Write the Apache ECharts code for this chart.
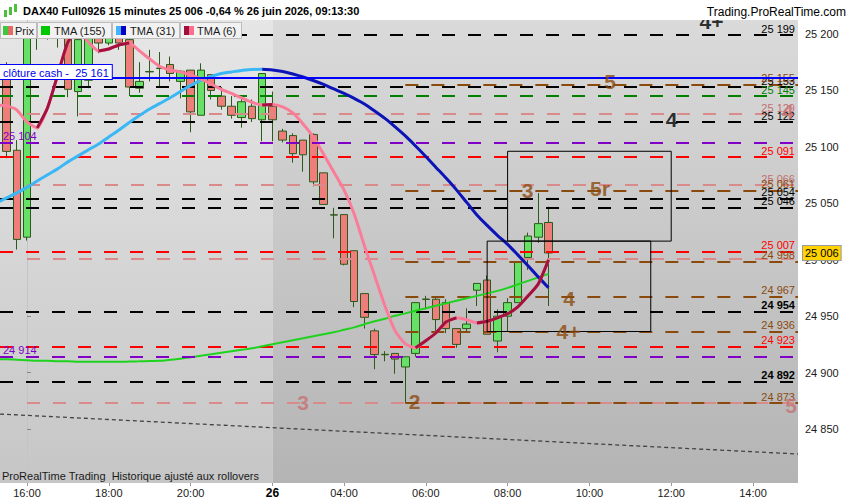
<!DOCTYPE html>
<html><head><meta charset="utf-8">
<script src="https://cdn.jsdelivr.net/npm/echarts@6/dist/echarts.min.js"></script>
<style>html,body{margin:0;padding:0;background:#fff}#c{width:850px;height:500px}</style>
</head><body><div id="c"></div>
<script>
const FONT = '"Liberation Sans", Arial, sans-serif';

// ---------- DATA ----------
// bar index 0 = 25 juin 16:00 ; index 24 = 26 juin 02:15 (first bar of the session); 15-minute bars
const FIRST_BAR = -3;
const tickIdx    = [0, 8, 16, 24, 31, 39, 47, 55, 63, 71];
const tickLabels = ['16:00', '18:00', '20:00', '26', '04:00', '06:00', '08:00', '10:00', '12:00', '14:00'];
const yTicks = [24850, 24900, 24950, 25000, 25050, 25100, 25150, 25200];

// OHLC, bars -3 .. 51 (null = not visible)
const open  = [null,25166,25097,25020,25203,25197,25203,25202,25149,25159,25203,25192,25200,25195,25152,25166.8,25169.8,25173,25158,25168,25128,25164,25145,25136,25126,25136,25124,25136,25114,25110,25106,25111,25077,25039.8,25040,25008,24970,24937,24916.2,24917,24905,24917,24965.2,24965,24962,24939,24939,24973,24982,24928,24950,24962,25002,25020,25033];
const close = [null,25096,25018,25205,25199,25203,25197,25151,25195,25196,25192,25203,25192,25153,25158,25166.4,25169.4,25165,25167,25131,25168,25150,25136,25128,25140,25125,25165,25124,25106,25094,25093,25069,25049,25039.6,24996,24963,24949,24916,24915.8,24912,24914,24962,24964.8,24947,24939,24925,24943,24979,24934,24950,24962,24998,25021,25032,25006];
const low   = [null,25090,25009,25017,25186,25195,25188,25144,25127,25152,25183,25190,25186,25145,25148,25158,25153,25158,25143,25113,25128,25142,25133,25125,25117,25122,25105,25105,25104,25086,25078,25065,25049,25019,24995,24958,24939,24903,24910,24899,24873,24914,24956,24936,24935,24922,24936,24959,24934,24918,24936,24962,24991,25015,24959];
const high  = [null,25175,25106,25210,25208,25208,25208,25205,25199,25203,25208,25208,25206,25199,25175,25186,25184,25180,25168,25168,25174,25164,25153,25145,25143,25142,25165,25149,25116,25112,25106,25112,25077,25046,25040,25008,24970,24939,24919,24917,24914,24962,24968,24967,24965,24939,24957,24979,24986,24956,24966,24998,25024,25059,25047];

// moving averages, bars -3 .. 51
const tma155 = [24912.0,24911.8,24911.4,24911.0,24910.5,24910.5,24910.0,24910.0,24909.6,24909.6,24909.6,24909.6,24909.6,24909.8,24910.0,24910.3,24910.5,24911.4,24912.2,24913.6,24914.9,24916.2,24917.6,24918.9,24920.2,24921.5,24923.3,24925.1,24926.9,24928.6,24930.4,24932.2,24934.0,24935.7,24937.9,24940.1,24942.8,24945.5,24947.7,24950.3,24952.5,24954.8,24957.0,24959.2,24961.4,24963.6,24965.8,24968.0,24970.2,24972.4,24975.1,24978.2,24981.3,24984.4,24987.5];
const tma31  = [25050.4,25054.8,25059.2,25064.1,25069.8,25075.2,25080.5,25086.7,25092.0,25097.3,25102.6,25108.8,25115.0,25121.6,25127.8,25133.6,25138.5,25143.5,25149.0,25154.5,25159.0,25162.4,25165.0,25166.4,25167.7,25168.6,25168.7,25168.1,25166.8,25164.6,25161.9,25158.8,25155.3,25151.3,25147.3,25142.9,25138.0,25131.8,25125.2,25117.7,25109.7,25100.8,25091.5,25081.8,25072.1,25061.9,25050.8,25039.7,25030.4,25021.6,25013.6,25004.3,24994.6,24984.8,24975.1];
const tma6   = [25137.0,25136.3,25132.7,25122.1,25116.8,25134.5,25163.7,25192.9,25203.5,25192.9,25185.0,25186.7,25190.3,25192.0,25185.0,25177.9,25171.2,25168.1,25166.4,25163.7,25160.2,25155.7,25150.9,25147.3,25143.3,25139.5,25137.2,25137.6,25135.4,25130.1,25120.3,25108.8,25093.7,25077.8,25061.9,25040.6,25012.3,24985.7,24959.2,24937.0,24925.5,24922.0,24928.2,24935.3,24945.0,24948.5,24946.8,24944.0,24945.5,24948.5,24952.1,24958.3,24968.0,24978.6,24999.9];
const tma31RisingUntil = 23;                 // light blue up to this bar, dark blue after
const tma6Rising = [[1,5],[7,10],[23,24],[38,42],[44,51]];

// horizontal levels
const blackLevels  = [25199, 25153, 25122, 25054, 25046, 24954, 24892];
const redLevels    = [25091, 25007, 24923];
const pinkLevels   = [25129, 25066, 25001, 24873];
const pinkUnlabeled = [25001, 24873];
const purpleLevels = [25104, 24914];
const greenLevels  = [25145];
const brownLevels  = [25155, 25061, 24998, 24967, 24936, 24873];
const pinkFromBar = 0, brownFromBar = 37;
const clotureCash = 25161;
const lastPrice = 25006;
const trendLine = [[-2.64, 24863.3], [75.4, 24827.9]];
const boxes = [[[47, 25096.1], [63, 25016.5]], [[45, 25016.5], [61, 24936.4]]];
const dayStartBar = 24;

// pattern annotations [bar, price, text]
const blackMarks = [[66.94, 25211.5, '4+'], [63.03, 25123.9, '4']];
const brownMarks = [[57.02, 25157.5, '5'], [48.95, 25061.4, '3'], [56.04, 25063.2, '5r'], [53.01, 24965.8, '4'], [52.96, 24936.6, '4+'], [37.9, 24874.6, '2']];
const pinkMarks  = [[26.99, 24873.7, '3'], [74.72, 24870.6, '5'], [74.4, 25131.4, '4']];

// ---------- CHART ----------
const X_MIN = -2.64, X_MAX = 75.4, Y_MIN = 24802.2, Y_MAX = 25212.4;
const fmt = v => { const s = String(Math.round(v)); return s.slice(0, s.length - 3) + ' ' + s.slice(-3); };
const idxOf = i => FIRST_BAR + i;

const candles = [];
open.forEach((o, i) => { if (o != null) candles.push([idxOf(i), o, close[i], low[i], high[i]]); });
const lineData = arr => arr.map((v, i) => [idxOf(i), v]);
const t31Light = tma31.map((v, i) => [idxOf(i), idxOf(i) <= tma31RisingUntil ? v : null]);
const t31Dark  = tma31.map((v, i) => [idxOf(i), idxOf(i) >= tma31RisingUntil ? v : null]);
const t6Dark = tma6.map((v, i) => {
  const b = idxOf(i);
  return [b, tma6Rising.some(r => b >= r[0] && b <= r[1]) ? v : null];
});

const COL = {black:'#000000', red:'#ff0000', pink:'#d98a8a', purple:'#8000c8', green:'#008000', brown:'#8a4a0e'};
const boldLabels = [24954, 24892];
function levels(values, color, startBar, side, txtColor) {
  return values.map(v => {
    const ls = {color: color, width: 2, type: [13, 13]};
    const label = {show: !(color === COL.pink && pinkUnlabeled.includes(v)),
      position: side === 'left' ? 'insideStartTop' : 'insideEndTop',
      formatter: fmt(v), color: txtColor || color, fontSize: 11, fontFamily: FONT,
      fontWeight: boldLabels.includes(v) ? 'bold' : 'normal', distance: [3, 1]};
    if (startBar == null) return {yAxis: v, lineStyle: ls, label: label};
    return [{coord: [startBar, v], lineStyle: ls, label: label}, {coord: [X_MAX, v]}];
  });
}
const levelData = [].concat(
  levels(blackLevels, COL.black, null, 'right'),
  levels(greenLevels, COL.green, null, 'right'),
  levels(redLevels, COL.red, null, 'right'),
  levels(pinkLevels, COL.pink, pinkFromBar, 'right', '#c47070'),
  levels(brownLevels, COL.brown, brownFromBar, 'right'),
  [[{coord: trendLine[0], lineStyle: {color: '#444', width: 1.3, type: [4, 3]}, label: {show: false}}, {coord: trendLine[1]}]]
);
const topLevelData = [].concat(
  levels(purpleLevels, COL.purple, null, 'left'),
  [{yAxis: clotureCash, lineStyle: {color: '#0000ff', width: 2, type: 'solid'},
    label: {show: true, position: 'insideStartTop', formatter: 'clôture cash -  ' + fmt(clotureCash),
      color: '#0000ee', fontSize: 11, fontFamily: FONT, backgroundColor: '#ffffff',
      borderColor: '#0000ff', borderWidth: 1, padding: [2, 3, 1, 3], distance: [0, -1]}}]
);

function marks(arr, color, size) {
  return {type: 'scatter', z: 6, symbolSize: 0, silent: true,
    data: arr.map(m => ({value: [m[0], m[1]], name: m[2]})),
    label: {show: true, position: 'inside', formatter: '{b}', color: color, fontSize: size,
      fontWeight: 'bold', fontFamily: FONT}};
}

const bgGrad = (a, b) => ({type: 'linear', x: 0, y: 0, x2: 0, y2: 1, colorStops: [{offset: 0, color: a}, {offset: 1, color: b}]});
const G = (o) => Object.assign({zlevel: 1, z: 100, silent: true}, o);

const chart = echarts.init(document.getElementById('c'), null, {renderer: 'svg'});
chart.setOption({
  animation: false,
  backgroundColor: '#ffffff',
  grid: {left: 0, right: 52, top: 20, bottom: 17, containLabel: false, outerBoundsMode: 'none'},
  xAxis: {type: 'value', min: X_MIN, max: X_MAX, splitLine: {show: false},
    axisLine: {show: false},
    axisTick: {show: true, customValues: tickIdx, length: 3, lineStyle: {color: '#999'}},
    axisLabel: {customValues: tickIdx, margin: 4, fontSize: 11, fontFamily: FONT, color: '#1a1a1a',
      formatter: v => { const k = tickIdx.indexOf(Math.round(v)); const t = k < 0 ? '' : tickLabels[k];
        return t === '26' ? '{d|26}' : t; },
      rich: {d: {fontSize: 12, fontWeight: 'bold', fontFamily: FONT, color: '#000'}}}},
  yAxis: {type: 'value', position: 'right', min: Y_MIN, max: Y_MAX, scale: true, splitLine: {show: false},
    axisLine: {show: true, lineStyle: {color: '#c4c4c4'}},
    axisTick: {show: true, customValues: yTicks, length: 4, lineStyle: {color: '#888'}},
    axisLabel: {customValues: yTicks, margin: 7, fontSize: 11, fontFamily: FONT, color: '#1a1a1a', formatter: v => fmt(v)}},
  graphic: [
    G({type: 'rect', shape: {x: 0, y: 0, width: 850, height: 20}, style: {fill: '#ffffff'}}),
    G({type: 'rect', shape: {x: 799, y: 392, width: 20, height: 26}, style: {fill: '#ffffff'}}),
    G({type: 'rect', z: 101, shape: {x: 4, y: 10, width: 3, height: 7}, style: {fill: '#4cbf3c'}}),
    G({type: 'rect', z: 101, shape: {x: 9, y: 7, width: 3, height: 8}, style: {fill: '#4cbf3c'}}),
    G({type: 'rect', z: 101, shape: {x: 14, y: 4, width: 3, height: 8}, style: {fill: '#4cbf3c'}}),
    G({type: 'text', z: 101, x: 23, y: 11, style: {text: 'DAX40 Full0926 15 minutes 25 006 -0,64 % 26 juin 2026, 09:13:30',
      font: 'bold 11px ' + FONT, fill: '#000', verticalAlign: 'middle'}}),
    G({type: 'text', z: 101, x: 846, y: 12, style: {text: 'Trading.ProRealTime.com', font: '12px ' + FONT, fill: '#000', align: 'right', verticalAlign: 'middle'}}),
    // legend
    G({type: 'rect', z: 101, shape: {x: 0.5, y: 22.5, width: 36, height: 16}, style: {fill: '#f2f2f2', stroke: '#bcbcbc'}}),
    G({type: 'rect', z: 102, shape: {x: 3, y: 26, width: 5, height: 9}, style: {fill: '#3cc83c'}}),
    G({type: 'rect', z: 102, shape: {x: 8, y: 26, width: 5, height: 9}, style: {fill: '#e46a6a'}}),
    G({type: 'text', z: 102, x: 15, y: 31, style: {text: 'Prix', font: '11px ' + FONT, fill: '#1a1a1a', verticalAlign: 'middle'}}),
    G({type: 'rect', z: 101, shape: {x: 37.5, y: 22.5, width: 74, height: 16}, style: {fill: '#f2f2f2', stroke: '#bcbcbc'}}),
    G({type: 'rect', z: 102, shape: {x: 41, y: 26, width: 9, height: 9}, style: {fill: '#00c800'}}),
    G({type: 'text', z: 102, x: 54, y: 31, style: {text: 'TMA (155)', font: '11px ' + FONT, fill: '#1a1a1a', verticalAlign: 'middle'}}),
    G({type: 'rect', z: 101, shape: {x: 112.5, y: 22.5, width: 67, height: 16}, style: {fill: '#f2f2f2', stroke: '#bcbcbc'}}),
    G({type: 'rect', z: 102, shape: {x: 116, y: 26, width: 5, height: 9}, style: {fill: '#40b4ff'}}),
    G({type: 'rect', z: 102, shape: {x: 121, y: 26, width: 5, height: 9}, style: {fill: '#0000c8'}}),
    G({type: 'text', z: 102, x: 130, y: 31, style: {text: 'TMA (31)', font: '11px ' + FONT, fill: '#1a1a1a', verticalAlign: 'middle'}}),
    G({type: 'rect', z: 101, shape: {x: 180.5, y: 22.5, width: 61, height: 16}, style: {fill: '#f2f2f2', stroke: '#bcbcbc'}}),
    G({type: 'rect', z: 102, shape: {x: 184, y: 26, width: 5, height: 9}, style: {fill: '#a0103c'}}),
    G({type: 'rect', z: 102, shape: {x: 189, y: 26, width: 5, height: 9}, style: {fill: '#ff6e8c'}}),
    G({type: 'text', z: 102, x: 197, y: 31, style: {text: 'TMA (6)', font: '11px ' + FONT, fill: '#1a1a1a', verticalAlign: 'middle'}}),
    G({type: 'text', z: 50, x: 2, y: 476, style: {text: 'ProRealTime Trading  Historique ajusté aux rollovers', font: '11px ' + FONT, fill: '#1a1a1a', verticalAlign: 'middle'}})
  ],
  series: [
    {type: 'line', name: 'bg', data: [], silent: true,
      markArea: {silent: true, z: 0, data: [
        [{xAxis: X_MIN, itemStyle: {color: bgGrad('#e6e6e6', '#c6c6c6')}}, {xAxis: dayStartBar}],
        [{xAxis: dayStartBar, itemStyle: {color: bgGrad('#dadada', '#b4b4b4')}}, {xAxis: X_MAX}]
      ]}},
    {type: 'candlestick', name: 'Prix', z: 3, barWidth: 8,
      dimensions: ['t', 'open', 'close', 'lowest', 'highest'],
      encode: {x: 't', y: ['open', 'close', 'lowest', 'highest']},
      data: candles,
      itemStyle: {color: '#66e066', color0: '#ee7d7b', borderColor: '#2c5a1a', borderColor0: '#2c5a1a', borderColorDoji: '#2c5a1a', borderWidth: 1}},
    {type: 'line', name: 'levels', data: [], silent: true,
      markLine: {silent: true, z: 3.5, symbol: ['none', 'none'], animation: false, data: levelData}},
    {type: 'line', name: 'TMA (155)', z: 4, data: lineData(tma155), showSymbol: false, smooth: 0.3,
      lineStyle: {color: '#1ed21e', width: 2}},
    {type: 'line', name: 'TMA (31) up', z: 4, data: t31Light, showSymbol: false, smooth: 0.3,
      lineStyle: {color: '#3cb7f5', width: 3}},
    {type: 'line', name: 'TMA (31) down', z: 4, data: t31Dark, showSymbol: false, smooth: 0.3,
      lineStyle: {color: '#0c14b8', width: 3}},
    {type: 'line', name: 'TMA (6)', z: 4, data: lineData(tma6), showSymbol: false, smooth: 0.2,
      lineStyle: {color: '#fa7c98', width: 3}},
    {type: 'line', name: 'TMA (6) up', z: 4, data: t6Dark, showSymbol: false, smooth: 0.2, connectNulls: false,
      lineStyle: {color: '#a3123f', width: 3}},
    {type: 'line', name: 'topLevels', data: [], silent: true,
      markLine: {silent: true, z: 5, symbol: ['none', 'none'], animation: false, data: topLevelData}},
    {type: 'line', name: 'boxes', data: [], silent: true,
      markArea: {silent: true, z: 5, data: boxes.map(b => [{coord: b[0], itemStyle: {color: 'rgba(0,0,0,0)', borderColor: '#000', borderWidth: 1}}, {coord: b[1]}])}},
    {type: 'line', name: 'last', data: [], silent: true,
      markLine: {silent: true, z: 10, symbol: ['none', 'none'], data: [{yAxis: lastPrice,
        lineStyle: {color: 'rgba(0,0,0,0)', width: 1, type: 'solid'},
        label: {show: true, position: 'end', distance: 5, formatter: fmt(lastPrice), color: '#000', fontSize: 11, fontFamily: FONT,
          backgroundColor: '#ffd200', borderColor: '#9a9a9a', borderWidth: 1, padding: [2, 2, 1, 2], opacity: 1}}]}},
    marks(blackMarks, '#000000', 21),
    marks(brownMarks, '#8a4a0e', 21),
    marks(pinkMarks, '#c87272', 21)
  ]
});
</script></body></html>
